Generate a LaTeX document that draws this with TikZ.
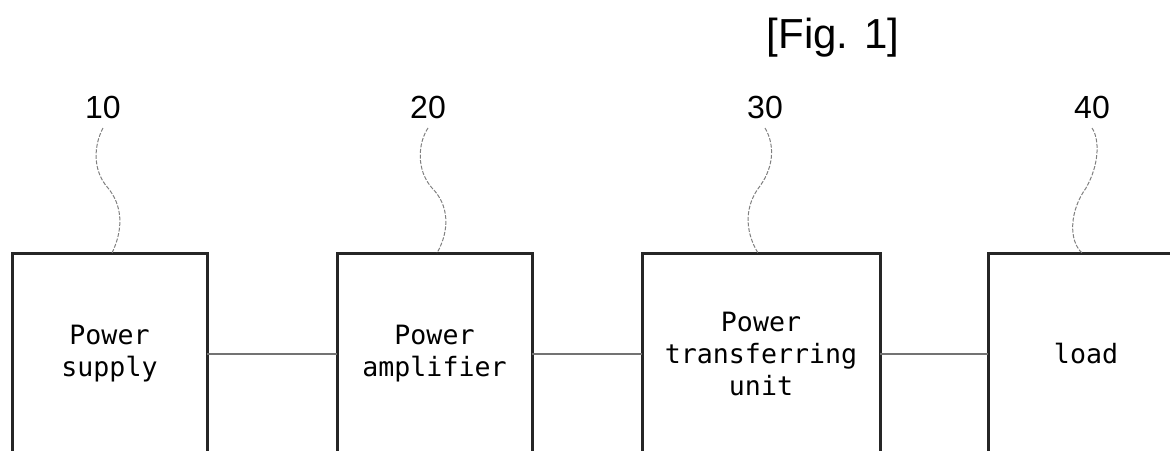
\documentclass[tikz,border=0pt]{standalone}
\usepackage{fontspec}
\setmainfont{Liberation Sans}
\newfontfamily\boxfont{DejaVu Sans Mono}
\usetikzlibrary{positioning, calc}
\tikzset{
    block/.style={rectangle, draw=black!85, line width=1.5pt, outer sep=0pt, inner sep=0pt, minimum width=97.5pt, minimum height=101pt, align=center, font={\boxfont\fontsize{13.3}{16}\selectfont}},
    refnum/.style={anchor=south, inner xsep=0pt, inner ysep=4.5pt, font={\fontsize{16}{18}\selectfont}},
    wire/.style={draw=black!55, line width=0.9pt},
    lead/.style={draw=black!50, line width=0.5pt, dash pattern=on 2pt off 0.8pt},
}
\begin{document}
\begin{tikzpicture}[x=0.5pt, y=-0.5pt]
    \useasboundingbox (0,0) rectangle (1170,450);
    \clip (0,0) rectangle (1170,450);

    % Title
    \node[font={\fontsize{21}{24}\selectfont}] (fig) at (833,38) {[Fig. 1]};

    % Blocks
    \node[block] (ps) at (109.5,354) {Power\\supply};
    \node[block, right=65pt of ps] (pa) {Power\\amplifier};
    \node[block, right=55pt of pa, minimum width=119pt] (ptu) {Power\\transferring\\unit};
    \node[block, right=54pt of ptu, minimum width=98pt] (ld) {load};

    % Reference numerals
    \node[refnum] (n10) at (103,128) {10};
    \node[refnum] (n20) at (428,128) {20};
    \node[refnum] (n30) at (765,128) {30};
    \node[refnum] (n40) at (1092,128) {40};

    % Leader lines
    \draw[lead] (n10.south) .. controls (94,145) and (92,170) .. (108,188)
        .. controls (122,205) and (124,228) .. ($(ps.north west)+(100,0)$);
    \draw[lead] (n20.south) .. controls (418,143) and (416,170) .. (432,188)
        .. controls (449,205) and (450,230) .. ($(pa.north west)+(100,0)$);
    \draw[lead] (n30.south) .. controls (774,143) and (775,165) .. (760,186)
        .. controls (745,205) and (744,230) .. ($(ptu.north west)+(116,0)$);
    \draw[lead] (n40.south) .. controls (1100,140) and (1099,165) .. (1086,188)
        .. controls (1070,210) and (1068,240) .. ($(ld.north west)+(94,0)$);

    % Connections
    \draw[wire] (ps.east) -- (pa.west);
    \draw[wire] (pa.east) -- (ptu.west);
    \draw[wire] (ptu.east) -- (ld.west);
\end{tikzpicture}
\end{document}
